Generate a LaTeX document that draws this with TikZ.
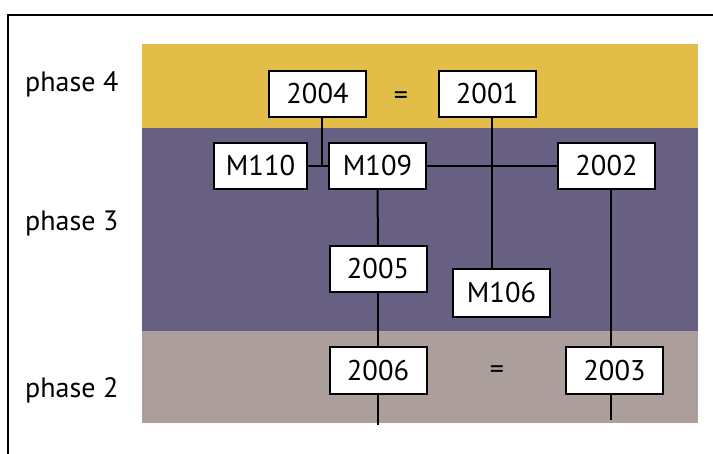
\documentclass[tikz,border=0pt]{standalone}
\usepackage{fontspec}
\setmainfont{PT Sans}
\definecolor{ph4}{RGB}{226,189,72}
\definecolor{ph3}{RGB}{103,96,130}
\definecolor{ph2}{RGB}{172,158,154}
\begin{document}
\begin{tikzpicture}[x=1pt,y=-1pt,
  yearbox/.style={draw=black,line width=2pt,fill=white,inner sep=0pt,
    minimum width=97pt,minimum height=46pt,font=\fontsize{28.5}{30}\selectfont},
  link/.style={line width=2pt,draw=black},
  lbl/.style={anchor=base west,inner sep=0pt,font=\fontsize{28}{30}\selectfont},
  eqsign/.style={inner sep=0pt,font=\fontsize{28}{30}\selectfont}]
\useasboundingbox (0,0) rectangle (713,453);
\fill[white] (0,0) rectangle (713,453);
% frame
\draw[line width=2.5pt] (8,455) -- (8,15) -- (715,15);
% bands
\fill[ph4] (142,44) rectangle (698,128);
\fill[ph3] (142,128) rectangle (698,331);
\fill[ph2] (142,331) rectangle (698,423);
% phase labels
\node[lbl] (p4) at (25,91) {phase 4};
\node[lbl] (p3) at (25,230) {phase 3};
\node[lbl] (p2) at (25,397) {phase 2};
% nodes
\node[yearbox] (n2004) at (317.5,94) {2004};
\node[yearbox] (n2001) at (487,94) {2001};
\node[yearbox,minimum width=93pt] (m110) at (260.5,166) {M110};
\node[yearbox] (m109) at (377.5,166) {M109};
\node[yearbox] (n2002) at (606.5,166) {2002};
\node[yearbox] (n2005) at (378,269) {2005};
\node[yearbox,minimum height=48pt] (m106) at (501.5,293) {M106};
\node[yearbox,minimum height=47pt] (n2006) at (378,370.5) {2006};
\node[yearbox,minimum height=47pt] (n2003) at (614.5,370.5) {2003};
\node[eqsign] (eq1) at (401,98) {=};
\node[eqsign] (eq2) at (497,372) {=};
% junction / free ends
\coordinate (j1) at (322,166);
\coordinate (e2006) at (378,425);
\coordinate (e2003) at (611,420);
% connectors
\draw[link] (m110.east) -- (m109.west);
\draw[link] ([xshift=4.5pt]n2004.south) -- (j1);
\draw[link] (m109.east) -- (n2002.west);
\draw[link] ([xshift=5pt]n2001.south) -- ([xshift=-9.5pt]m106.north);
\draw[link] (m109.south) -- (n2005.north);
\draw[link] (n2005.south) -- (n2006.north);
\draw[link] (n2006.south) -- (e2006);
\draw[link] ([xshift=4.5pt]n2002.south) -- ([xshift=-3.5pt]n2003.north);
\draw[link] ([xshift=-3.5pt]n2003.south) -- (e2003);
\end{tikzpicture}
\end{document}
